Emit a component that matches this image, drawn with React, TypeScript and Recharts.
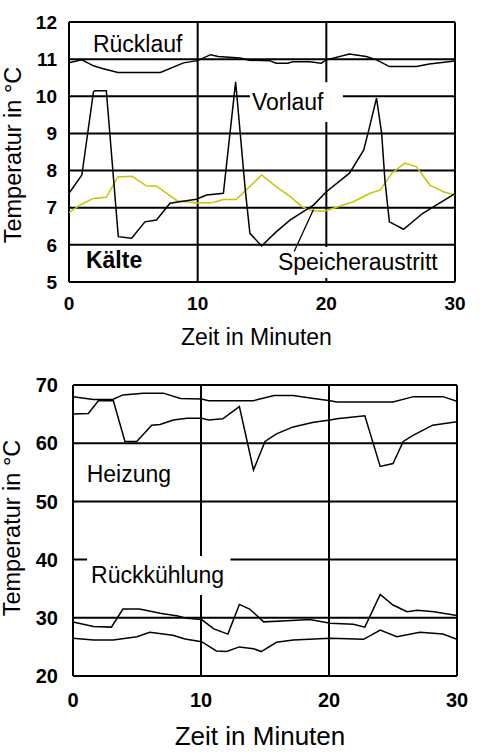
import { LineChart, Line, XAxis, YAxis, CartesianGrid, ReferenceArea, ReferenceLine } from "recharts";

const FONT = '"Liberation Sans", Arial, sans-serif';

// axes
const minuteTicks = [0, 10, 20, 30];
const kaelteTicks = [5, 6, 7, 8, 9, 10, 11, 12];
const heizTicks = [20, 30, 40, 50, 60, 70];

// Kälte: Rücklauf (minutes / °C)
const ruecklaufT = [0, 1, 1.9, 2.6, 3.8, 7.1, 8.9, 10, 11, 11.6, 13.3, 14, 15.6, 16.1, 17, 17.4, 18.7, 19.6, 20, 21.8, 23.1, 23.9, 24.9, 27, 28, 30];
const ruecklaufV = [10.9, 10.98, 10.82, 10.75, 10.64, 10.64, 10.9, 10.96, 11.12, 11.07, 11.03, 10.97, 10.96, 10.89, 10.89, 10.93, 10.93, 10.89, 10.98, 11.14, 11.07, 10.98, 10.8, 10.8, 10.87, 10.95];

// Kälte: Vorlauf
const vorlaufT = [0, 1, 1.9, 2, 2.9, 3.83, 4.87, 5.9, 6.8, 7.85, 8.6, 9.9, 10.7, 12, 12.95, 13.7, 14.06, 14.97, 16.1, 17.2, 19, 20, 21.8, 22.9, 23.3, 23.9, 24.3, 24.55, 24.9, 26, 27.5, 30];
const vorlaufV = [7.39, 7.88, 10.12, 10.15, 10.15, 6.22, 6.18, 6.62, 6.67, 7.12, 7.16, 7.23, 7.34, 7.39, 10.39, 7.48, 6.31, 5.97, 6.35, 6.67, 7.07, 7.43, 7.93, 8.55, 9.09, 9.95, 9.0, 7.75, 6.62, 6.42, 6.85, 7.38];

// Kälte: Speicheraustritt
const speicherT = [0, 1, 1.9, 2.9, 3.8, 4.9, 6, 6.8, 8.4, 9.9, 11.2, 12, 13, 14.97, 16.1, 17.2, 18.1, 18.9, 19.9, 22.1, 23.4, 24.2, 25.1, 26.1, 27, 28.05, 29.1, 30];
const speicherV = [6.87, 7.1, 7.25, 7.28, 7.83, 7.85, 7.59, 7.58, 7.19, 7.13, 7.14, 7.22, 7.22, 7.88, 7.57, 7.3, 7.03, 6.91, 6.91, 7.16, 7.39, 7.48, 7.93, 8.2, 8.1, 7.61, 7.43, 7.34];

// Heizung: Vorlauf / Rücklauf
const heizVorT = [0, 1.6, 3.1, 3.9, 5.5, 7.05, 8.4, 10.05, 10.6, 14.1, 15.7, 17.2, 18.8, 20.1, 20.6, 25, 26.6, 28.9, 30];
const heizVorV = [68.0, 67.5, 67.5, 68.3, 68.6, 68.6, 67.7, 67.6, 67.3, 67.3, 68.2, 68.2, 67.7, 67.3, 67.1, 67.1, 68.0, 68.0, 67.2];
const heizRueckT = [0, 1.2, 1.98, 3.15, 4.06, 4.98, 6.15, 6.8, 7.84, 8.9, 10.05, 10.6, 11.7, 13, 14.1, 15, 15.9, 17.2, 18.8, 20.1, 20.6, 22.8, 24, 25, 25.8, 26.6, 28.1, 30];
const heizRueckV = [65.0, 65.1, 67.3, 67.3, 60.3, 60.3, 63.1, 63.2, 64.0, 64.3, 64.3, 64.0, 64.2, 66.3, 55.4, 60.3, 61.6, 62.8, 63.6, 64.0, 64.2, 64.7, 56.0, 56.5, 60.3, 61.4, 63.1, 63.7];

// Rückkühlung: obere / untere Kurve
const kuehlObenT = [0, 1.6, 3, 3.9, 5.2, 6.8, 8.2, 8.9, 10.05, 11, 12.1, 13, 13.8, 14.9, 16.7, 18.5, 20.1, 21.9, 22.8, 24, 25, 26.1, 26.9, 28.2, 30];
const kuehlObenV = [29.3, 28.5, 28.4, 31.5, 31.5, 30.8, 30.3, 29.9, 29.7, 28.1, 27.2, 32.3, 31.5, 29.3, 29.5, 29.7, 29.05, 28.9, 28.4, 34.0, 32.2, 31.05, 31.3, 31.05, 30.4];
const kuehlUntenT = [0, 1.6, 3.15, 5, 6, 7.8, 8.75, 10.05, 11.2, 12, 13, 14.1, 14.7, 15.9, 17.2, 20.1, 22.7, 24, 25.3, 27.1, 28.9, 30];
const kuehlUntenV = [26.5, 26.2, 26.2, 26.75, 27.5, 27.0, 26.35, 25.9, 24.3, 24.2, 25.0, 24.7, 24.2, 25.8, 26.2, 26.5, 26.3, 27.9, 26.75, 27.5, 27.2, 26.3];

const pts = (t: number[], v: number[]) => t.map((x, i) => ({ t: x, v: v[i] }));

type Note = { text: string; x1: number; x2: number; y1: number; y2: number; box?: boolean; bold?: boolean; padL: number; padB: number };

// text placement (data units of each chart)
const kaelteNotes: Note[] = [
  { text: "Rücklauf", x1: 1.86, x2: 8.86, y1: 11.19, y2: 11.62, padL: 0, padB: 0 },
  { text: "Vorlauf", x1: 14.06, x2: 21.29, y1: 9.31, y2: 10.38, box: true, padL: 2, padB: 12 },
  { text: "Kälte", x1: 1.32, x2: 5.8, y1: 5.376, y2: 5.8, bold: true, padL: 0, padB: 0 },
  { text: "Speicheraustritt", x1: 15.85, x2: 29.76, y1: 5.11, y2: 5.94, box: true, padL: 5, padB: 8 },
];
const heizNotes: Note[] = [
  { text: "Heizung", x1: 1.07, x2: 7.5, y1: 53.39, y2: 56, padL: 0, padB: 0 },
  { text: "Rückkühlung", x1: 1.1, x2: 12.3, y1: 33.9, y2: 40.6, box: true, padL: 4, padB: 12 },
];

const tickStyle = (size: number) => ({ fontSize: size, fontWeight: 700, fill: "#000", fontFamily: FONT });

function noteAreas(notes: Note[]) {
  return notes.map((n) => (
    <ReferenceArea
      key={n.text}
      x1={n.x1}
      x2={n.x2}
      y1={n.y1}
      y2={n.y2}
      fill="#fff"
      fillOpacity={n.box ? 1 : 0}
      stroke="none"
      label={(p: any) => (
        <text
          x={p.viewBox.x + n.padL}
          y={p.viewBox.y + p.viewBox.height - n.padB}
          fontSize={23}
          fontWeight={n.bold ? 700 : 400}
          fontFamily={FONT}
          fill="#000"
        >
          {n.text}
        </text>
      )}
    />
  ));
}

export default function App() {
  return (
    <div style={{ position: "absolute", left: 0, top: 0, width: 480, height: 754, background: "#fff" }}>
      <div style={{ position: "absolute", left: 0, top: 0 }}>
        <LineChart width={480} height={360} margin={{ top: 22, right: 25, bottom: 48, left: 0 }}>
          <CartesianGrid stroke="#000" strokeWidth={2} />
          <XAxis
            type="number"
            dataKey="t"
            domain={[0, 30]}
            ticks={minuteTicks}
            interval={0}
            allowDataOverflow
            axisLine={false}
            tickLine={false}
            tickSize={0}
            tickMargin={14.5}
            height={30}
            tick={tickStyle(19)}
            label={() => (
              <text x={256.5} y={345} textAnchor="middle" fontSize={23} fontFamily={FONT} fill="#000">
                Zeit in Minuten
              </text>
            )}
          />
          <YAxis
            type="number"
            domain={[5, 12]}
            ticks={kaelteTicks}
            interval={0}
            allowDataOverflow
            axisLine={false}
            tickLine={false}
            tickSize={0}
            tickMargin={12}
            width={69}
            tick={tickStyle(19)}
            label={() => (
              <text transform="translate(21,155) rotate(-90)" textAnchor="middle" fontSize={23.5} fontFamily={FONT} fill="#000">
                Temperatur in °C
              </text>
            )}
          />
          {noteAreas(kaelteNotes)}
          <Line data={pts(ruecklaufT, ruecklaufV)} dataKey="v" type="linear" stroke="#000" strokeWidth={1.5} dot={false} isAnimationActive={false} />
          <Line data={pts(speicherT, speicherV)} dataKey="v" type="linear" stroke="#c8c400" strokeWidth={1.5} dot={false} isAnimationActive={false} />
          <Line data={pts(vorlaufT, vorlaufV)} dataKey="v" type="linear" stroke="#000" strokeWidth={1.5} dot={false} isAnimationActive={false} />
          <ReferenceLine segment={[{ x: 17.5, y: 5.82 }, { x: 19, y: 6.95 }]} stroke="#000" strokeWidth={1.3} />
        </LineChart>
      </div>
      <div style={{ position: "absolute", left: 0, top: 360 }}>
        <LineChart width={480} height={394} margin={{ top: 25, right: 23, bottom: 48, left: 0 }}>
          <CartesianGrid stroke="#000" strokeWidth={2} />
          <XAxis
            type="number"
            dataKey="t"
            domain={[0, 30]}
            ticks={minuteTicks}
            interval={0}
            allowDataOverflow
            axisLine={false}
            tickLine={false}
            tickSize={0}
            tickMargin={16.5}
            height={30}
            tick={tickStyle(20)}
            label={() => (
              <text x={260} y={385} textAnchor="middle" fontSize={26} fontFamily={FONT} fill="#000">
                Zeit in Minuten
              </text>
            )}
          />
          <YAxis
            type="number"
            domain={[20, 70]}
            ticks={heizTicks}
            interval={0}
            allowDataOverflow
            axisLine={false}
            tickLine={false}
            tickSize={0}
            tickMargin={15}
            width={73}
            tick={tickStyle(20)}
            label={() => (
              <text transform="translate(20,168) rotate(-90)" textAnchor="middle" fontSize={23.5} fontFamily={FONT} fill="#000">
                Temperatur in °C
              </text>
            )}
          />
          {noteAreas(heizNotes)}
          <Line data={pts(heizVorT, heizVorV)} dataKey="v" type="linear" stroke="#000" strokeWidth={1.5} dot={false} isAnimationActive={false} />
          <Line data={pts(heizRueckT, heizRueckV)} dataKey="v" type="linear" stroke="#000" strokeWidth={1.5} dot={false} isAnimationActive={false} />
          <Line data={pts(kuehlObenT, kuehlObenV)} dataKey="v" type="linear" stroke="#000" strokeWidth={1.5} dot={false} isAnimationActive={false} />
          <Line data={pts(kuehlUntenT, kuehlUntenV)} dataKey="v" type="linear" stroke="#000" strokeWidth={1.5} dot={false} isAnimationActive={false} />
        </LineChart>
      </div>
    </div>
  );
}
